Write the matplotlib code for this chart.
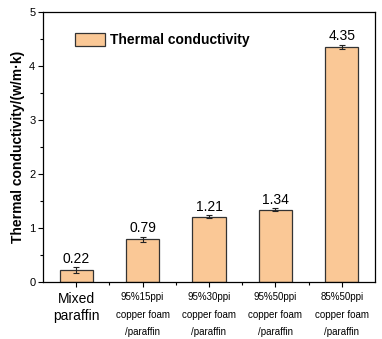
import matplotlib
matplotlib.use("Agg")
import matplotlib.pyplot as plt
from matplotlib.ticker import MultipleLocator, FixedLocator

plt.rcParams['font.family'] = ['Liberation Sans', 'DejaVu Sans']

categories = ["Mixed\nparaffin",
              "95%15ppi\ncopper foam\n/paraffin",
              "95%30ppi\ncopper foam\n/paraffin",
              "95%50ppi\ncopper foam\n/paraffin",
              "85%50ppi\ncopper foam\n/paraffin"]
values = [0.22, 0.79, 1.21, 1.34, 4.35]
errors = [0.05, 0.05, 0.03, 0.03, 0.04]
value_labels = ["0.22", "0.79", "1.21", "1.34", "4.35"]

fig = plt.figure(figsize=(3.82, 3.39), dpi=100)
ax = fig.add_axes([0.1126, 0.168, 0.869, 0.797])

x = list(range(len(values)))
ax.bar(x, values, width=0.5, color="#FAC896", edgecolor="#333333", linewidth=0.9,
       label="Thermal conductivity", zorder=2)
ax.errorbar(x, values, yerr=errors, fmt="none", ecolor="#222222", elinewidth=0.8,
            capsize=2.5, capthick=0.8, zorder=3)
for xi, v, e, s in zip(x, values, errors, value_labels):
    ax.annotate(s, (xi, v + e), xytext=(0, 1), textcoords="offset points",
                ha="center", va="bottom", fontsize=10)

ax.set_xlim(-0.5, 4.5)
ax.set_ylim(0, 5)
ax.yaxis.set_major_locator(MultipleLocator(1))
ax.yaxis.set_minor_locator(MultipleLocator(0.5))
ax.xaxis.set_minor_locator(FixedLocator([0.5, 1.5, 2.5, 3.5]))
ax.tick_params(axis="both", which="major", direction="out", length=3.5, width=0.8)
ax.tick_params(axis="both", which="minor", direction="out", length=2, width=0.8)
ax.tick_params(axis="y", which="major", labelsize=8, pad=2)
ax.tick_params(axis="x", which="major", pad=4)
ax.set_xticks(x)
ax.set_xticklabels(categories)
for i, lab in enumerate(ax.get_xticklabels()):
    if i == 0:
        lab.set_fontsize(10)
        lab.set_linespacing(1.2)
    else:
        lab.set_fontsize(7)
        lab.set_linespacing(1.9)
for sp in ax.spines.values():
    sp.set_linewidth(0.9)

ax.set_ylabel("Thermal conductivity/(w/m·k)", fontsize=10, fontweight="bold", labelpad=3)

leg = ax.legend(loc="center left", bbox_to_anchor=(0.096, 0.896), frameon=False,
                prop={"weight": "bold", "size": 10}, handlelength=2.2, handleheight=1.1,
                handletextpad=0.3, borderaxespad=0, borderpad=0)

fig.savefig("out.png", dpi=100)
